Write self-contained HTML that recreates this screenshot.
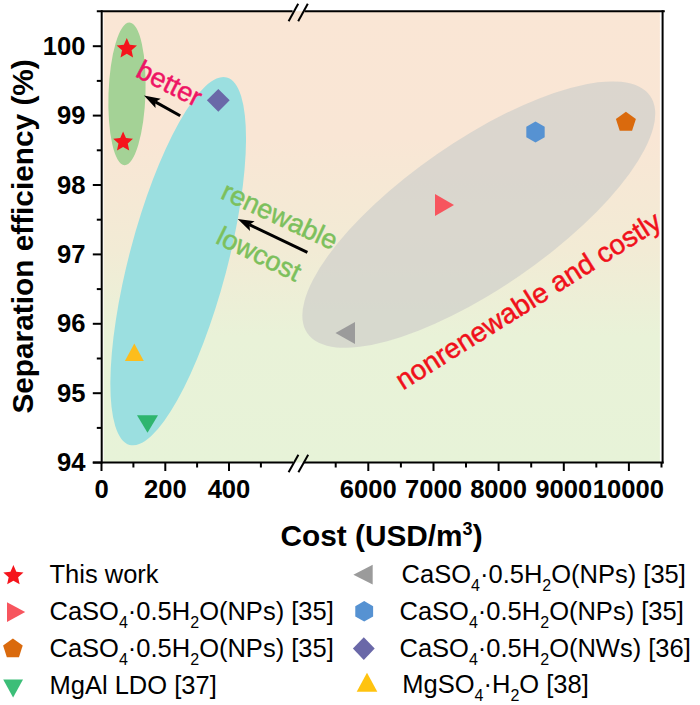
<!DOCTYPE html>
<html><head><meta charset="utf-8"><title>chart</title>
<style>
html,body{margin:0;padding:0;background:#fff;}
body{width:700px;height:705px;overflow:hidden;}
svg{display:block;font-family:"Liberation Sans",sans-serif;}
.tk line{stroke:#000;stroke-width:2;}
.tl text{font-size:25.6px;font-weight:bold;fill:#000;}
.ttl{font-size:29.8px;font-weight:bold;fill:#000;}
.lg text{font-size:25.5px;fill:#000;}
.sub{font-size:16px;}
.ann{font-size:27px;stroke-width:0.5px;}
</style></head><body>
<svg width="700" height="705" viewBox="0 0 700 705">
<defs>
<linearGradient id="bg" x1="0" y1="0" x2="0" y2="1">
<stop offset="0" stop-color="#fae6d5"/>
<stop offset="0.28" stop-color="#f9e6d5"/>
<stop offset="0.53" stop-color="#f2ebd5"/>
<stop offset="0.72" stop-color="#e9f2d8"/>
<stop offset="1" stop-color="#e7f3d8"/>
</linearGradient>
</defs>
<rect x="0" y="0" width="700" height="705" fill="#fff"/>
<rect x="103.6" y="11.2" width="556.3" height="451.3" fill="url(#bg)"/>
<!-- ellipses -->
<ellipse cx="127" cy="93.8" rx="18.5" ry="71.4" transform="rotate(2 127 93.8)" fill="#a4d296"/>
<ellipse cx="178.2" cy="261.2" rx="49" ry="190" transform="rotate(14.8 178.2 261.2)" fill="#9bdfe0"/>
<ellipse cx="478.8" cy="214.6" rx="208.5" ry="73.5" transform="rotate(-34.7 478.8 214.6)" fill="#cfcfcb" fill-opacity="0.7"/>
<!-- frame -->
<g stroke="#000" stroke-width="2" fill="none">
<line x1="101.7" y1="10.2" x2="101.7" y2="463.5"/>
<line x1="662.6" y1="10.2" x2="662.6" y2="463.5"/>
<line x1="96.8" y1="11.2" x2="292.6" y2="11.2"/>
<line x1="304.6" y1="11.2" x2="664.8000000000001" y2="11.2"/>
<line x1="92.8" y1="462.5" x2="293" y2="462.5"/>
<line x1="303.8" y1="462.5" x2="663.6" y2="462.5"/>
<line x1="288.6" y1="21.2" x2="298.2" y2="3.8"/>
<line x1="298.2" y1="21.2" x2="307.8" y2="3.8"/>
<line x1="288.6" y1="472.2" x2="298.4" y2="454.8"/>
<line x1="298.4" y1="472.2" x2="308.2" y2="454.8"/>
</g>
<g class="tk"><line x1="92.8" y1="462.6" x2="101.7" y2="462.6"/><line x1="92.8" y1="393.2" x2="101.7" y2="393.2"/><line x1="92.8" y1="323.8" x2="101.7" y2="323.8"/><line x1="92.8" y1="254.4" x2="101.7" y2="254.4"/><line x1="92.8" y1="185.0" x2="101.7" y2="185.0"/><line x1="92.8" y1="115.6" x2="101.7" y2="115.6"/><line x1="92.8" y1="46.2" x2="101.7" y2="46.2"/><line x1="96.8" y1="427.9" x2="101.7" y2="427.9"/><line x1="96.8" y1="358.5" x2="101.7" y2="358.5"/><line x1="96.8" y1="289.1" x2="101.7" y2="289.1"/><line x1="96.8" y1="219.7" x2="101.7" y2="219.7"/><line x1="96.8" y1="150.3" x2="101.7" y2="150.3"/><line x1="96.8" y1="80.9" x2="101.7" y2="80.9"/><line x1="101.5" y1="462.5" x2="101.5" y2="471"/><line x1="165.3" y1="462.5" x2="165.3" y2="471"/><line x1="229.0" y1="462.5" x2="229.0" y2="471"/><line x1="133.4" y1="462.5" x2="133.4" y2="467.5"/><line x1="197.1" y1="462.5" x2="197.1" y2="467.5"/><line x1="260.9" y1="462.5" x2="260.9" y2="467.5"/><line x1="368.3" y1="462.5" x2="368.3" y2="471"/><line x1="433.5" y1="462.5" x2="433.5" y2="471"/><line x1="498.6" y1="462.5" x2="498.6" y2="471"/><line x1="563.8" y1="462.5" x2="563.8" y2="471"/><line x1="628.9" y1="462.5" x2="628.9" y2="471"/><line x1="335.7" y1="462.5" x2="335.7" y2="467.5"/><line x1="400.9" y1="462.5" x2="400.9" y2="467.5"/><line x1="466.0" y1="462.5" x2="466.0" y2="467.5"/><line x1="531.2" y1="462.5" x2="531.2" y2="467.5"/><line x1="596.3" y1="462.5" x2="596.3" y2="467.5"/><line x1="661.5" y1="462.5" x2="661.5" y2="467.5"/></g>
<g class="tl"><text x="85.4" y="471.1" text-anchor="end">94</text><text x="85.4" y="401.7" text-anchor="end">95</text><text x="85.4" y="332.3" text-anchor="end">96</text><text x="85.4" y="262.9" text-anchor="end">97</text><text x="85.4" y="193.5" text-anchor="end">98</text><text x="85.4" y="124.1" text-anchor="end">99</text><text x="85.4" y="54.7" text-anchor="end">100</text><text x="101.5" y="497.7" text-anchor="middle">0</text><text x="165.3" y="497.7" text-anchor="middle">200</text><text x="229.0" y="497.7" text-anchor="middle">400</text><text x="368.3" y="497.7" text-anchor="middle">6000</text><text x="433.5" y="497.7" text-anchor="middle">7000</text><text x="498.6" y="497.7" text-anchor="middle">8000</text><text x="563.8" y="497.7" text-anchor="middle">9000</text><text x="664" y="497.7" text-anchor="end">10000</text></g>
<text class="ttl" x="280.5" y="546.3">Cost (USD/m<tspan font-size="18" dy="-11">3</tspan><tspan dy="11">)</tspan></text>
<text class="ttl" transform="translate(33,413.6) rotate(-90)">Separation efficiency (%)</text>
<!-- markers -->
<polygon points="126.80,38.10 129.76,44.73 136.98,45.49 131.58,50.35 133.09,57.46 126.80,53.83 120.51,57.46 122.02,50.35 116.62,45.49 123.84,44.73" fill="#f5141c"/>
<polygon points="123.10,131.60 125.97,138.05 132.99,138.79 127.75,143.51 129.21,150.41 123.10,146.89 116.99,150.41 118.45,143.51 113.21,138.79 120.23,138.05" fill="#f5141c"/>
<polygon points="218.3,88.9 229.7,100.3 218.3,111.7 206.9,100.3" fill="#6a68a8"/>
<polygon points="134.3,343.6 143.8,361 124.9,361" fill="#fdbd1c"/>
<polygon points="137,415.2 158,415.2 147.5,432.7" fill="#2eb56e"/>
<polygon points="335.5,333 355,322 355,344" fill="#9b9b9b"/>
<polygon points="435,194 454,205 435,216" fill="#f7555e"/>
<polygon points="535.50,121.40 544.68,126.70 544.68,137.30 535.50,142.60 526.32,137.30 526.32,126.70" fill="#5692d2"/>
<polygon points="625.90,111.80 635.89,119.06 632.07,130.79 619.73,130.79 615.91,119.06" fill="#da6a0d"/>
<!-- arrows -->
<line x1="180.2" y1="115.8" x2="155.3" y2="101.9" stroke="#000" stroke-width="3"/><polygon points="144.0,95.5 160.7,98.8 155.3,101.9 155.5,108.0" fill="#000"/>
<line x1="307.4" y1="252.3" x2="249.4" y2="224.7" stroke="#000" stroke-width="3"/><polygon points="237.7,219.1 254.6,221.3 249.4,224.7 250.0,230.9" fill="#000"/>
<!-- annotations -->
<text class="ann" fill="#ee1464" stroke="#ee1464" transform="translate(134.5,76) rotate(27)">better</text>
<text class="ann" fill="#7cc05c" stroke="#7cc05c" transform="translate(219.5,197.8) rotate(25)">renewable</text>
<text class="ann" fill="#7cc05c" stroke="#7cc05c" transform="translate(214.5,242.5) rotate(26)">lowcost</text>
<text class="ann" fill="#f0101a" stroke="#f0101a" style="font-size:27.8px" transform="translate(403,390.5) rotate(-32.2)">nonrenewable and costly</text>
<!-- legend -->
<g class="lg">
<polygon points="13.40,565.10 16.33,571.67 23.48,572.42 18.14,577.24 19.63,584.28 13.40,580.68 7.17,584.28 8.66,577.24 3.32,572.42 10.47,571.67" fill="#f5141c"/>
<text x="49.5" y="582.7">This work</text>
<polygon points="7,602.2 25.2,612 7,622" fill="#f7555e"/>
<text x="49.5" y="619.9">CaSO<tspan class="sub" dy="8.5">4</tspan><tspan dy="-8.5">·0.5H</tspan><tspan class="sub" dy="8.5">2</tspan><tspan dy="-8.5">O(NPs) [35]</tspan></text>
<polygon points="12.90,638.50 22.70,645.62 18.95,657.13 6.85,657.13 3.10,645.62" fill="#da6a0d"/>
<text x="49.5" y="656.7">CaSO<tspan class="sub" dy="8.5">4</tspan><tspan dy="-8.5">·0.5H</tspan><tspan class="sub" dy="8.5">2</tspan><tspan dy="-8.5">O(NPs) [35]</tspan></text>
<polygon points="3.2,679.5 23,679.5 13.1,697.5" fill="#3cbe78"/>
<text x="49.5" y="694">MgAl LDO [37]</text>
<polygon points="353.4,574.7 372.7,564.8 372.7,584.6" fill="#9b9b9b"/>
<text x="401.6" y="582.7">CaSO<tspan class="sub" dy="8.5">4</tspan><tspan dy="-8.5">·0.5H</tspan><tspan class="sub" dy="8.5">2</tspan><tspan dy="-8.5">O(NPs) [35]</tspan></text>
<polygon points="364.20,601.00 373.12,606.15 373.12,616.45 364.20,621.60 355.28,616.45 355.28,606.15" fill="#5692d2"/>
<text x="399.5" y="619.5">CaSO<tspan class="sub" dy="8.5">4</tspan><tspan dy="-8.5">·0.5H</tspan><tspan class="sub" dy="8.5">2</tspan><tspan dy="-8.5">O(NPs) [35]</tspan></text>
<polygon points="363.8,637.3 374.7,648.6 363.8,659.9 352.9,648.6" fill="#6a68a8"/>
<text x="399.5" y="656.5">CaSO<tspan class="sub" dy="8.5">4</tspan><tspan dy="-8.5">·0.5H</tspan><tspan class="sub" dy="8.5">2</tspan><tspan dy="-8.5">O(NWs) [36]</tspan></text>
<polygon points="367,672.8 377.3,691.8 356.7,691.8" fill="#ffc30f"/>
<text x="402.3" y="692.5">MgSO<tspan class="sub" dy="8.5">4</tspan><tspan dy="-8.5">·H</tspan><tspan class="sub" dy="8.5">2</tspan><tspan dy="-8.5">O [38]</tspan></text>
</g>
</svg>
</body></html>
